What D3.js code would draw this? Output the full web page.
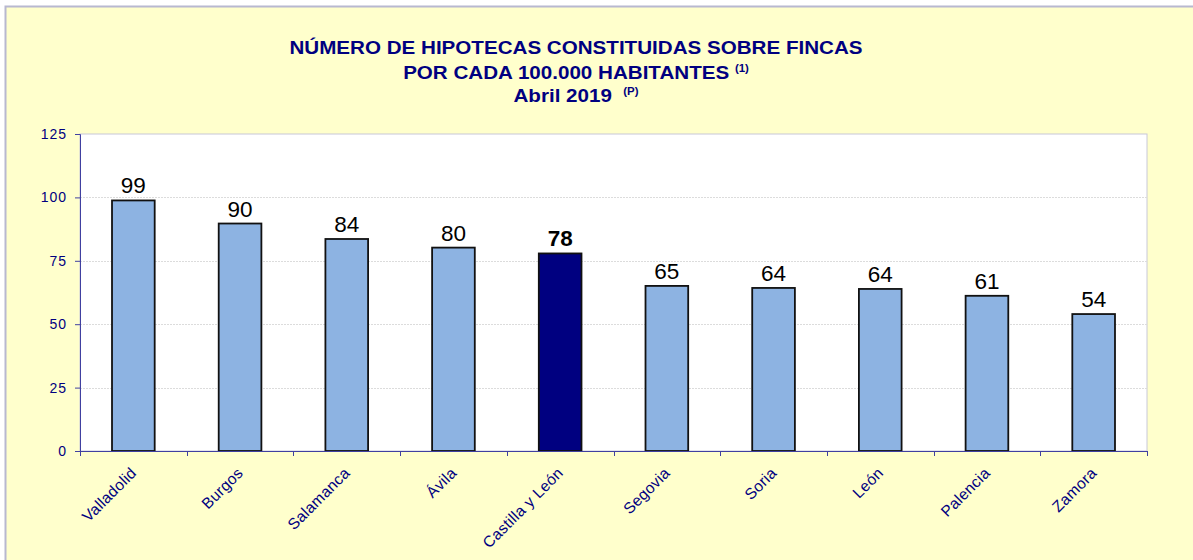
<!DOCTYPE html>
<html>
<head>
<meta charset="utf-8">
<script src="https://cdn.jsdelivr.net/npm/d3@7"></script>
<style>
  body { margin: 0; background: #fff; }
  text { font-family: "Liberation Sans", Arial, sans-serif; }
</style>
</head>
<body>
<div id="chart"></div>
<script>
const provincias = ["Valladolid", "Burgos", "Salamanca", "Ávila", "Castilla y León",
                    "Segovia", "Soria", "León", "Palencia", "Zamora"];
const hipotecas = [98.8, 89.7, 83.6, 80.2, 77.9, 65.1, 64.3, 63.9, 61.2, 54.0];
const yTicks = [0, 25, 50, 75, 100, 125];
const totalRegion = "Castilla y León";

const width = 1193, height = 560;
const margin = {top: 134, right: 46, bottom: 109, left: 80};

const svg = d3.select("#chart").append("svg")
    .attr("width", width)
    .attr("height", height);

// chart background
svg.append("rect")
    .attr("x", 5.5).attr("y", 6.5)
    .attr("width", width).attr("height", height)
    .attr("fill", "#FFFFCC")
    .attr("stroke", "#B8B8D0")
    .attr("stroke-width", 2);

// title (the original font is a bit wider, so stretch it)
const title = svg.append("g")
    .attr("transform", "translate(576,0) scale(1.145,1)")
    .append("text")
    .attr("text-anchor", "middle")
    .attr("fill", "#000080")
    .style("white-space", "pre")
    .style("font-weight", "bold")
    .style("font-size", "18px");
title.append("tspan").attr("x", 0).attr("y", 54)
    .text("NÚMERO DE HIPOTECAS CONSTITUIDAS SOBRE FINCAS");
const t2 = title.append("tspan").attr("x", 0).attr("y", 79);
t2.append("tspan").text("POR CADA 100.000 HABITANTES ");
t2.append("tspan").attr("dy", -7).style("font-size", "10px").text("(1)");
const t3 = title.append("tspan").attr("x", 0).attr("y", 102);
t3.append("tspan").text("Abril 2019  ");
t3.append("tspan").attr("dy", -7).style("font-size", "10px").text("(P)");

const x = d3.scaleBand()
    .domain(provincias)
    .range([margin.left, width - margin.right])
    .paddingInner(0.6)
    .paddingOuter(0.3);

const y = d3.scaleLinear()
    .domain([0, 125])
    .range([height - margin.bottom, margin.top]);

// plot area
svg.append("rect")
    .attr("x", margin.left).attr("y", margin.top)
    .attr("width", width - margin.right - margin.left)
    .attr("height", y(0) - margin.top)
    .attr("fill", "#fff")
    .attr("stroke", "#C8C8D8");

// gridlines
svg.append("g")
    .selectAll("line")
    .data(yTicks.filter(d => d > 0 && d < 125))
    .enter()
    .append("line")
    .attr("x1", margin.left).attr("x2", width - margin.right)
    .attr("y1", d => Math.round(y(d)) + 0.5).attr("y2", d => Math.round(y(d)) + 0.5)
    .attr("stroke", "#DCDCDC")
    .attr("stroke-dasharray", "2,1");

// bars
svg.append("g")
    .selectAll("rect")
    .data(provincias.map((p, i) => [p, hipotecas[i]]))
    .enter()
    .append("rect")
    .attr("x", d => x(d[0]))
    .attr("y", d => y(d[1]))
    .attr("width", x.bandwidth())
    .attr("height", d => y(0) - y(d[1]))
    .attr("fill", d => d[0] === totalRegion ? "#000080" : "#8DB3E2")
    .attr("stroke", "#111")
    .attr("stroke-width", 1.8);

// value labels
svg.append("g")
    .selectAll("text")
    .data(provincias.map((p, i) => [p, hipotecas[i]]))
    .enter()
    .append("text")
    .attr("x", d => x(d[0]) + x.bandwidth() / 2)
    .attr("y", d => y(d[1]) - 7)
    .attr("text-anchor", "middle")
    .style("font-size", "22.5px")
    .style("font-weight", d => d[0] === totalRegion ? "bold" : "normal")
    .attr("fill", "#000")
    .text(d => Math.round(d[1]));

// y axis
const yAxis = svg.append("g")
    .attr("transform", `translate(${margin.left},0)`)
    .call(d3.axisLeft(y).tickValues(yTicks).tickSize(5).tickPadding(8));
yAxis.selectAll("text")
    .attr("fill", "#000080")
    .style("font-size", "14px")
    .style("letter-spacing", "1px");
yAxis.selectAll("line, path").attr("stroke", "#4040A0");

// x axis with ticks at the band boundaries
const step = x.step();
const bounds = d3.range(provincias.length + 1).map(i => margin.left + i * step);
const xAxis = svg.append("g");
xAxis.append("line")
    .attr("x1", margin.left).attr("x2", width - margin.right)
    .attr("y1", y(0) + 0.5).attr("y2", y(0) + 0.5)
    .attr("stroke", "#4040A0");
xAxis.selectAll(".tick")
    .data(bounds)
    .enter()
    .append("line")
    .attr("x1", d => Math.round(d) + 0.5).attr("x2", d => Math.round(d) + 0.5)
    .attr("y1", y(0)).attr("y2", y(0) + 5)
    .attr("stroke", "#4040A0");

// category labels
svg.append("g")
    .selectAll("text")
    .data(provincias)
    .enter()
    .append("text")
    .attr("transform", d => `translate(${x(d) + x.bandwidth() / 2 + 4},${y(0) + 23}) rotate(-45)`)
    .attr("text-anchor", "end")
    .attr("fill", "#000080")
    .style("font-size", "15.5px")
    .style("letter-spacing", "0.3px")
    .text(d => d);
</script>
</body>
</html>
